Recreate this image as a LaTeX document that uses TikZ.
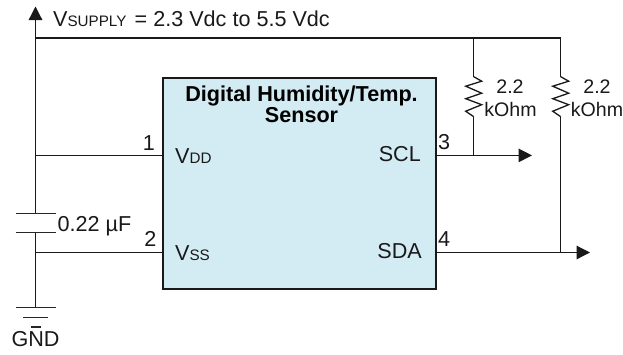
\documentclass[tikz,border=0pt]{standalone}
\usepackage{fontspec}
\setmainfont{Liberation Sans}
\usetikzlibrary{arrows.meta}
\newcommand{\fa}{\fontsize{21.6}{24}\selectfont}
\newcommand{\fb}{\fontsize{15.2}{17}\selectfont}
\newcommand{\fc}{\fontsize{19.6}{22}\selectfont}
\tikzset{
  wire/.style={draw=black!90,line width=1.3pt},
  sig/.style={wire,-{Triangle[length=13.5pt,width=13.5pt]}},
  plate/.style={draw=black!85,line width=1.2pt},
  chip/.style={draw=black!90,line width=2.2pt,fill=chipblue,inner sep=0pt,minimum width=273pt,minimum height=211pt},
  lab/.style={inner sep=0pt,anchor=base west,text=black!90,font=\fa},
  labr/.style={lab,anchor=base east},
  labc/.style={lab,anchor=base},
  labk/.style={labc,font=\fc},
  title/.style={inner sep=0pt,anchor=base,font=\fontsize{21.6}{24}\selectfont\bfseries,text=black},
  res/.pic={\draw[wire,line join=miter] (0,0) -- (8,4.5) -- (-8,9.5) -- (8,16.5) -- (-8,22) -- (8,28) -- (-8,34.5) -- (0,40);}
}
\definecolor{chipblue}{RGB}{211,235,243}
\begin{document}
\begin{tikzpicture}[x=1pt,y=-1pt]
\useasboundingbox (0,0) rectangle (623,354);
\fill[white] (0,0) rectangle (623,354);
\node[chip,anchor=north west] (ic) at (161.5,77) {};
% named junctions
\coordinate (tip) at (35.5,6.5);
\coordinate (rail) at (35.5,38);
\coordinate (railend) at (560.7,38);
\coordinate (j1) at (35.5,155.4);
\coordinate (p1) at (161.5,155.4);
\coordinate (j2) at (35.5,252.5);
\coordinate (p2) at (161.5,252.5);
\coordinate (capt) at (35.5,213.3);
\coordinate (capb) at (35.5,232.7);
\coordinate (gnd) at (35.5,307.6);
\coordinate (p3) at (434.7,155.4);
\coordinate (p4) at (434.7,252.5);
\coordinate (r1) at (473.7,38);
\coordinate (r1t) at (473.7,76.7);
\coordinate (r1b) at (473.7,116.7);
\coordinate (j3) at (473.7,155.4);
\coordinate (r2t) at (560.7,76.7);
\coordinate (r2b) at (560.7,116.7);
\coordinate (j4) at (560.7,252.5);
\coordinate (o3) at (532,155.4);
\coordinate (o4) at (590,252.5);
% wires
\draw[sig] (capt) -- (tip);
\draw[wire] (rail) -- (railend) -- (r2t);
\draw[wire] (j1) -- (p1);
\draw[wire] (capb) -- (gnd);
\draw[wire] (j2) -- (p2);
\draw[wire] (r1) -- (r1t);
\draw[wire] (r1b) -- (j3);
\draw[wire] (r2b) -- (j4);
\draw[sig] (p3) -- (o3);
\draw[sig] (p4) -- (o4);
\pic at (r1t) {res};
\pic at (r2t) {res};
% plates
\draw[plate] (15.5,213.3) -- (55.5,213.3);
\draw[plate] (15.5,232.7) -- (55.5,232.7);
\draw[plate] (15.5,307.6) -- (55.5,307.6);
\draw[plate] (23,317.3) -- (48,317.3);
\draw[plate] (30.5,327) -- (40.5,327);
% texts
\node[lab] (vs) at (53,26.7) {V\fb SUPPLY\fa\hspace{2.2pt}\ = 2.3 Vdc to 5.5 Vdc};
\node[title] (t1) at (301.5,101) {Digital Humidity/Temp.};
\node[title] (t2) at (301.5,122.7) {Sensor};
\node[labr] (n1) at (155,150) {1};
\node[labr] (n2) at (156.5,246.7) {2};
\node[lab] (n3) at (438,149.3) {3};
\node[lab] (n4) at (438,246.7) {4};
\node[lab] (vdd) at (175,163.5) {V\fb DD};
\node[lab] (vss) at (175,260.7) {V\fb SS};
\node[labr] (scl) at (421,161.7) {SCL};
\node[labr] (sda) at (422,258.3) {SDA};
\node[lab] (cap) at (57.5,231.7) {0.22 µF};
\node[labc] (g) at (35.5,346.7) {GND};
\node[labk] (ra) at (510,93.3) {2.2};
\node[labk] (rb) at (510.5,116.7) {kOhm};
\node[labk] (rc) at (597,93.3) {2.2};
\node[labk] (rd) at (597,116.7) {kOhm};
\end{tikzpicture}
\end{document}
